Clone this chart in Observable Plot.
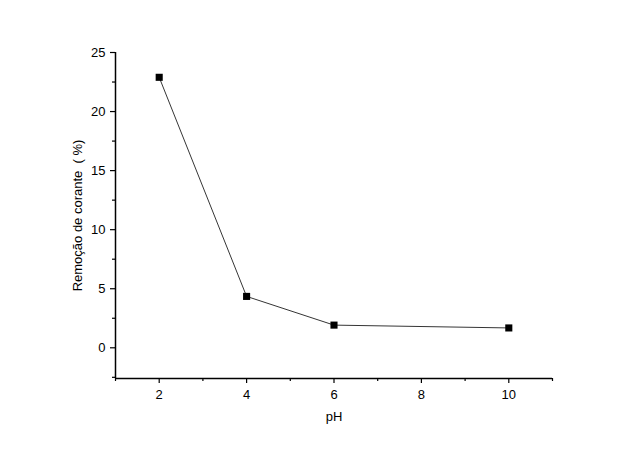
<!DOCTYPE html>
<html><head><meta charset="utf-8">
<script src="https://cdn.jsdelivr.net/npm/d3@7"></script>
<script src="https://cdn.jsdelivr.net/npm/@observablehq/plot@0.6"></script>
<style>body{margin:0;background:#fff;}</style>
</head><body><div id="chart"></div>
<script>
const pH = [2, 4, 6, 10];
const remocao = [22.9, 4.35, 1.92, 1.68];
const xMajor = [2, 4, 6, 8, 10];
const xMinor = [1, 3, 5, 7, 9, 11];
const yMajor = [0, 5, 10, 15, 20, 25];
const yMinor = [-2.5, 2.5, 7.5, 12.5, 17.5, 22.5];
const data = pH.map((x, i) => ({x, y: remocao[i]}));

const chart = Plot.plot({
  width: 640, height: 452,
  marginLeft: 115, marginRight: 88, marginTop: 52, marginBottom: 74,
  style: {fontFamily: "Liberation Sans, Arial, sans-serif", fontSize: "13px", color: "#000", background: "#fff"},
  x: {domain: [1, 11]},
  y: {domain: [-2.6, 25]},
  marks: [
    Plot.axisX({ticks: xMajor, tickSize: 5, tickPadding: 6, fontSize: 13, label: "pH", labelAnchor: "center", labelArrow: "none", labelOffset: 42, strokeWidth: 1.2}),
    Plot.axisX({ticks: xMinor, tickSize: 3, text: null, label: null, strokeWidth: 1.2}),
    Plot.axisY({ticks: yMajor, tickSize: 5, tickPadding: 5, fontSize: 13, label: "Remoção de corante  ( %)", labelAnchor: "center", labelArrow: "none", labelOffset: 43, strokeWidth: 1.2}),
    Plot.axisY({ticks: yMinor, tickSize: 3, text: null, label: null, strokeWidth: 1.2}),
    Plot.ruleX([1], {stroke: "#000", strokeWidth: 1.5}),
    Plot.ruleY([-2.6], {stroke: "#000", strokeWidth: 1.5}),
    Plot.line(data, {x: "x", y: "y", stroke: "#000", strokeWidth: 0.8}),
    Plot.dot(data, {x: "x", y: "y", symbol: "square", r: 4, fill: "#000", stroke: "none"})
  ]
});
document.getElementById("chart").append(chart);
</script>
</body></html>
